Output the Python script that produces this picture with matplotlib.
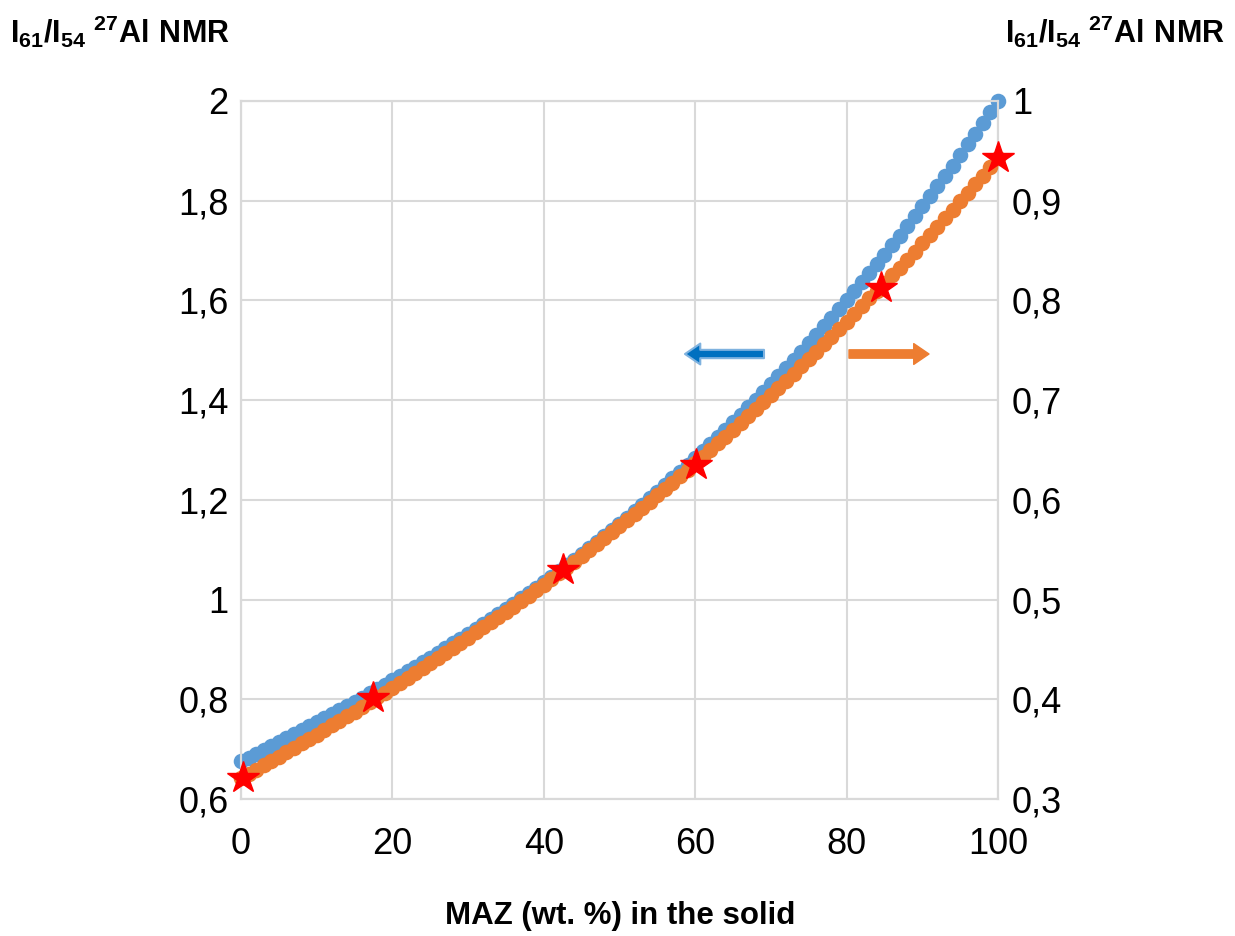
import matplotlib
matplotlib.use("Agg")
import matplotlib.pyplot as plt

plt.rcParams['font.family'] = ['Liberation Sans', 'DejaVu Sans']
plt.rcParams['mathtext.fontset'] = 'custom'
plt.rcParams['mathtext.rm'] = 'Liberation Sans'
plt.rcParams['mathtext.bf'] = 'Liberation Sans:bold'

# MAZ content in the solid (wt. %)
maz = list(range(0, 101))

# left axis series (blue), I61/I54 ratio
ratio_left = [
    0.676, 0.683, 0.691, 0.699, 0.706, 0.714, 0.722, 0.730, 0.738, 0.746, 0.754,
    0.762, 0.770, 0.778, 0.786, 0.795, 0.803, 0.812, 0.820, 0.829, 0.838,
    0.847, 0.856, 0.865, 0.874, 0.883, 0.893, 0.902, 0.912, 0.921, 0.931,
    0.941, 0.951, 0.961, 0.971, 0.982, 0.992, 1.003, 1.013, 1.024, 1.035,
    1.046, 1.057, 1.069, 1.080, 1.092, 1.104, 1.115, 1.127, 1.140, 1.152,
    1.164, 1.177, 1.190, 1.203, 1.216, 1.229, 1.243, 1.256, 1.270, 1.284,
    1.298, 1.312, 1.327, 1.341, 1.356, 1.371, 1.386, 1.401, 1.417, 1.432,
    1.448, 1.464, 1.481, 1.497, 1.514, 1.531, 1.548, 1.565, 1.582, 1.600,
    1.618, 1.636, 1.654, 1.673, 1.692, 1.711, 1.730, 1.749, 1.769, 1.789,
    1.809, 1.829, 1.850, 1.870, 1.891, 1.913, 1.934, 1.956, 1.978, 2.000,
]

# right axis series (orange)
ratio_right = [
    0.321, 0.325, 0.329, 0.334, 0.338, 0.342, 0.347, 0.351, 0.356, 0.360, 0.364,
    0.369, 0.374, 0.378, 0.383, 0.387, 0.392, 0.397, 0.402, 0.406, 0.411,
    0.416, 0.421, 0.426, 0.431, 0.436, 0.441, 0.446, 0.451, 0.456, 0.461,
    0.467, 0.472, 0.477, 0.482, 0.488, 0.493, 0.499, 0.504, 0.510, 0.515,
    0.521, 0.527, 0.532, 0.538, 0.544, 0.550, 0.556, 0.562, 0.568, 0.574,
    0.580, 0.586, 0.592, 0.598, 0.605, 0.611, 0.617, 0.624, 0.630, 0.637,
    0.643, 0.650, 0.657, 0.663, 0.670, 0.677, 0.684, 0.691, 0.698, 0.705,
    0.712, 0.719, 0.726, 0.734, 0.741, 0.748, 0.756, 0.763, 0.771, 0.778,
    0.786, 0.794, 0.802, 0.809, 0.817, 0.825, 0.833, 0.841, 0.849, 0.858,
    0.866, 0.874, 0.883, 0.891, 0.900, 0.908, 0.917, 0.925, 0.934, 0.943,
]

# measured samples (red stars, right axis)
star_x = [0.3, 17.4, 42.6, 60.1, 84.5, 100]
star_y = [0.321, 0.401, 0.5295, 0.635, 0.8125, 0.943]

xticks = [0, 20, 40, 60, 80, 100]
left_ticks = [0.6, 0.8, 1.0, 1.2, 1.4, 1.6, 1.8, 2.0]
left_labels = ["0,6", "0,8", "1", "1,2", "1,4", "1,6", "1,8", "2"]
right_ticks = [0.3, 0.4, 0.5, 0.6, 0.7, 0.8, 0.9, 1.0]
right_labels = ["0,3", "0,4", "0,5", "0,6", "0,7", "0,8", "0,9", "1"]

BLUE = "#5B9BD5"
ORANGE = "#ED7D31"
GRID = "#D9D9D9"

fig = plt.figure(figsize=(12.35, 9.36), dpi=100)
ax = fig.add_axes([0.1951, 0.1464, 0.8081 - 0.1951, 0.8921 - 0.1464])
ax2 = ax.twinx()

ax.plot(maz, ratio_left, "o", color=BLUE, ms=11.2, mec="none", zorder=2,
        clip_on=False)
ax2.plot(maz, ratio_right, "o", color=ORANGE, ms=11.2, mec="none", zorder=3,
         clip_on=False)
ax2.plot(star_x, star_y, "*", color="#FF0000", ms=24, mec="#FF0000", zorder=4,
         clip_on=False)

ax.set_xlim(0, 100)
ax.set_ylim(0.6, 2.0)
ax2.set_ylim(0.3, 1.0)
ax.set_xticks(xticks)
ax.set_xticklabels([str(v) for v in xticks])
ax.set_yticks(left_ticks)
ax.set_yticklabels(left_labels)
ax2.set_yticks(right_ticks)
ax2.set_yticklabels(right_labels)

ax.grid(True, color=GRID, lw=1.5)
ax.set_axisbelow(True)
for a in (ax, ax2):
    for s in a.spines.values():
        s.set_color(GRID)
        s.set_linewidth(1.5)
    a.tick_params(length=0, labelsize=26, colors="black")
ax.tick_params(axis="y", pad=9)
ax.tick_params(axis="x", pad=20)
ax2.tick_params(axis="y", pad=10)

fig.text(0.502, 0.0214, "MAZ (wt. %) in the solid", ha="center", va="center",
         fontsize=22.5, fontweight="bold")
lab = r"$\mathbf{I_{61}/I_{54}}$ $\mathbf{^{27}Al\ NMR}$"
fig.text(0.008, 0.966, lab, ha="left", va="center", fontsize=22)
fig.text(0.992, 0.966, lab, ha="right", va="center", fontsize=22)

# direction arrows
arrow_style = "simple,head_length=0.55,head_width=0.75,tail_width=0.3"
ax.annotate("", xy=(685, 936 - 354), xytext=(764, 936 - 354),
            xycoords="figure pixels", textcoords="figure pixels",
            arrowprops=dict(arrowstyle=arrow_style, mutation_scale=20,
                            fc="#0070C0", ec="#7FB2DF", lw=1.5,
                            shrinkA=0, shrinkB=0))
ax.annotate("", xy=(929, 936 - 354), xytext=(849, 936 - 354),
            xycoords="figure pixels", textcoords="figure pixels",
            arrowprops=dict(arrowstyle=arrow_style, mutation_scale=20,
                            fc=ORANGE, ec=ORANGE, lw=1.0,
                            shrinkA=0, shrinkB=0))

fig.savefig("out.png", dpi=100)
plt.close(fig)
